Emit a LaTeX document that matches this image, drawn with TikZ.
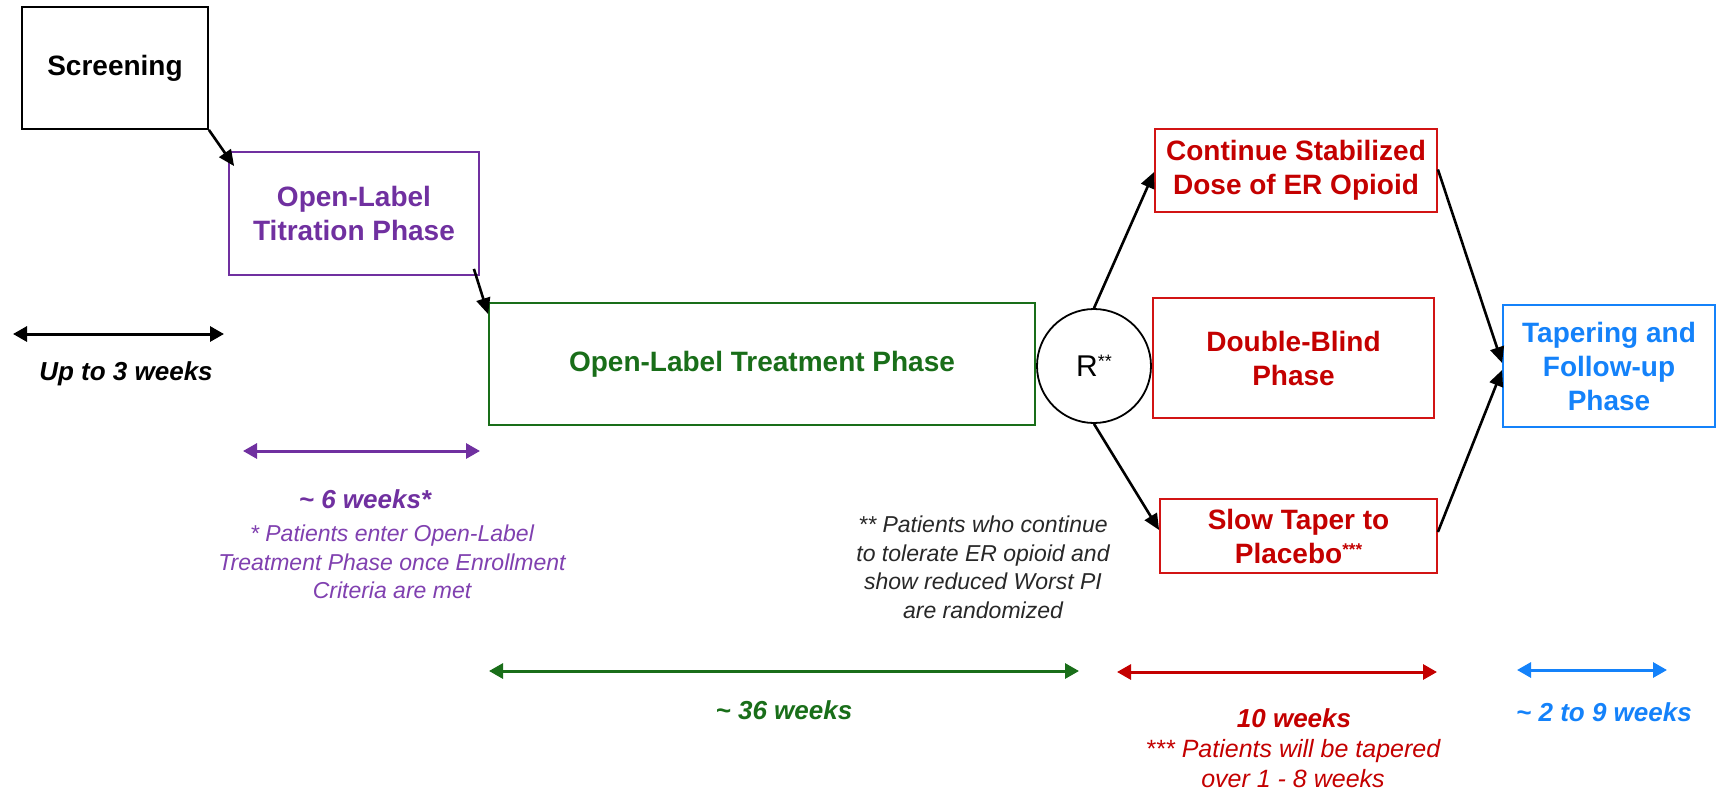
\documentclass[tikz,border=0pt]{standalone}
\usepackage{fontspec}
\setmainfont{Liberation Sans}
\usetikzlibrary{arrows.meta,calc}
\definecolor{cpurple}{RGB}{112,48,160}
\definecolor{cpurplel}{RGB}{128,64,176}
\definecolor{cgreen}{RGB}{25,110,25}
\definecolor{cred}{RGB}{196,0,0}
\definecolor{credb}{RGB}{210,20,20}
\definecolor{cblue}{RGB}{20,130,250}
\definecolor{cgray}{RGB}{40,40,40}
\begin{document}
\begin{tikzpicture}[x=1pt,y=-1pt,
 box/.style={draw, line width=1.8pt, inner sep=0pt, align=center, font=\bfseries\fontsize{28}{34}\selectfont},
 flow/.style={-{Triangle[length=16pt,width=14pt]}, line width=2.6pt, black},
 dur/.style={{Triangle[length=14pt,width=15pt]}-{Triangle[length=14pt,width=15pt]}, line width=3pt},
 lbl/.style={font=\bfseries\itshape\fontsize{26}{30}\selectfont, align=center, inner sep=0pt},
 note/.style={font=\itshape\fontsize{23}{28.5}\selectfont, align=center, inner sep=0pt}]
\useasboundingbox[fill=white] (0,0) rectangle (1717,793);

% boxes
\node[box, minimum width=186pt, minimum height=122pt] (scr) at (115,68) {Screening};
\node[box, draw=cpurple, text=cpurple, minimum width=250pt, minimum height=123pt] (tit) at (354,213.5) {Open-Label\\Titration Phase};
\node[box, draw=cgreen, text=cgreen, minimum width=546pt, minimum height=122pt] (trt) at (762,364) {Open-Label Treatment Phase};
\node[draw, circle, line width=1.8pt, minimum size=114pt, inner sep=0pt, font=\fontsize{30}{30}\selectfont] (R) at (1094,366) {R\raisebox{9pt}{\fontsize{18}{18}\selectfont **}};
\node[box, draw=credb, text=cred, minimum width=282pt, minimum height=83pt] (cont) at (1296,170.5) {Continue Stabilized\\Dose of ER Opioid};
\node[box, draw=credb, text=cred, minimum width=281pt, minimum height=120pt] (db) at (1293.5,358) {Double-Blind\\Phase};
\node[box, draw=credb, text=cred, minimum width=277pt, minimum height=74pt] (slow) at (1298.5,536) {Slow Taper to\\Placebo\raisebox{8pt}{\fontsize{17}{17}\selectfont ***}};
\node[box, draw=cblue, text=cblue, minimum width=212pt, minimum height=122pt] (tap) at (1609,366) {Tapering and\\Follow-up\\Phase};

% flow arrows
\draw[flow] (scr.south east) -- ($(tit.north west)+(6,15)$);
\draw[flow] ($(tit.south east)+(-6,-7)$) -- ($(trt.north west)+(0,12)$);
\draw[flow] (R.north) -- ($(cont.west)+(0,1.5)$);
\draw[flow] (R.south) -- ($(slow.west)+(0,-6)$);
\draw[flow] ($(cont.east)+(0,-1)$) -- ($(tap.west)+(0,-3)$);
\draw[flow] ($(slow.east)+(0,-4)$) -- ($(tap.west)+(0,4)$);

% duration arrows
\coordinate (d1a) at (13,334);   \coordinate (d1b) at (224,334);
\coordinate (d2a) at (243,451);  \coordinate (d2b) at (480,451);
\coordinate (d3a) at (489,671);  \coordinate (d3b) at (1079,671);
\coordinate (d4a) at (1117,672); \coordinate (d4b) at (1437,672);
\coordinate (d5a) at (1517,670); \coordinate (d5b) at (1667,670);
\draw[dur, black] (d1a) -- (d1b);
\draw[dur, cpurple] (d2a) -- (d2b);
\draw[dur, cgreen] (d3a) -- (d3b);
\draw[dur, cred] (d4a) -- (d4b);
\draw[dur, cblue] (d5a) -- (d5b);

% labels
\node[lbl] (l1) at (126,374) {Up to 3 weeks};
\node[lbl, text=cpurple] (l2) at (365,499) {\textasciitilde\ 6 weeks*};
\node[note, text=cpurplel] (n1) at (392,562) {* Patients enter Open-Label\\Treatment Phase once Enrollment\\Criteria are met};
\node[note, text=cgray] (n2) at (983,567.5) {** Patients who continue\\to tolerate ER opioid and\\show reduced Worst PI\\are randomized};
\node[lbl, text=cgreen] (l3) at (784,710) {\textasciitilde\ 36 weeks};
\node[lbl, text=cred] (l4) at (1294,718) {10 weeks};
\node[note, text=cred, font=\itshape\fontsize{25}{30}\selectfont] (n3) at (1293,764) {*** Patients will be tapered\\over 1 - 8 weeks};
\node[lbl, text=cblue] (l5) at (1604,712) {\textasciitilde\ 2 to 9 weeks};
\end{tikzpicture}
\end{document}
